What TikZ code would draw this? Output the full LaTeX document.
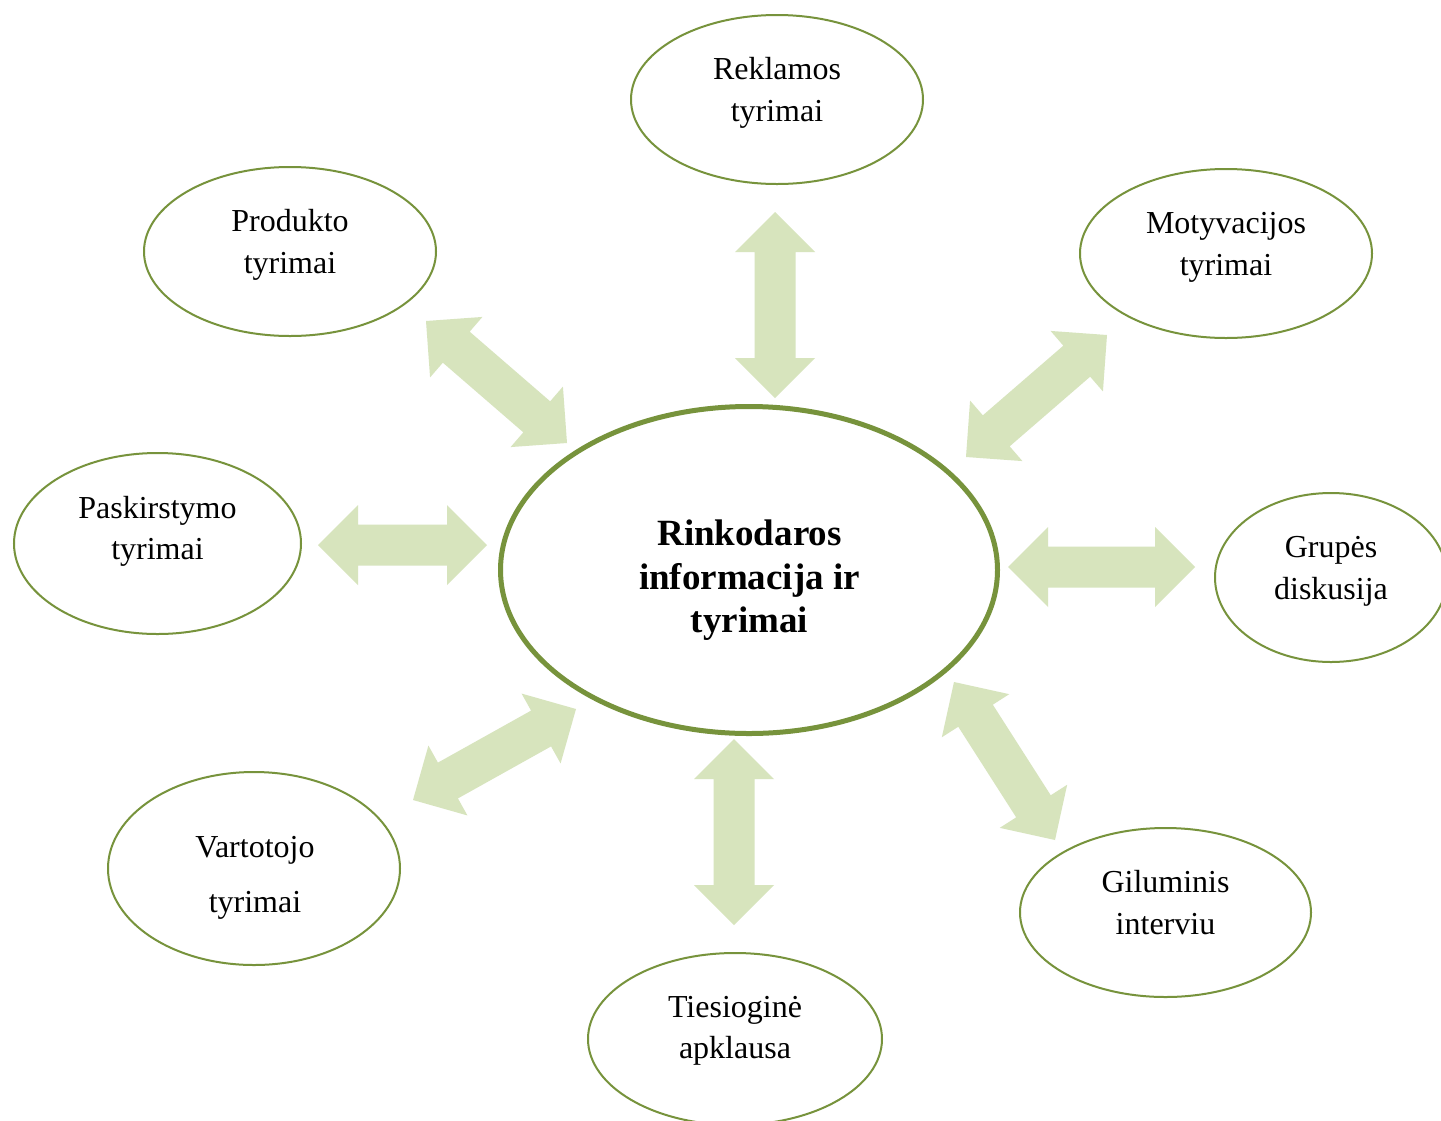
\documentclass[tikz,border=0pt]{standalone}
\usepackage{fontspec}
\setmainfont{Liberation Serif}
\usetikzlibrary{calc,shapes.geometric}
\definecolor{oliveline}{HTML}{77933C}
\definecolor{arrowgreen}{HTML}{D7E4BD}
\tikzset{
  outer/.style={ellipse, draw=oliveline, line width=2pt, fill=white, inner sep=0pt},
  hub/.style={ellipse, draw=oliveline, line width=5pt, fill=white, inner sep=0pt},
  lbl/.style={anchor=base, inner sep=0pt, font=\fontsize{32}{38}\selectfont},
  hublbl/.style={anchor=base, inner sep=0pt, font=\bfseries\fontsize{37}{44}\selectfont},
  blockarrow/.style={fill=arrowgreen},
}
\newcommand{\dblarrow}[2]{%
  \path ($(#1)!40pt!(#2)$) coordinate (ha) ($(#2)!40pt!(#1)$) coordinate (hb);
  \fill[blockarrow] (#1) -- ($(ha)!40pt!90:(#2)$) -- ($(ha)!20.5pt!90:(#2)$)
    -- ($(hb)!20.5pt!-90:(#1)$) -- ($(hb)!40pt!-90:(#1)$) -- (#2)
    -- ($(hb)!40pt!90:(#1)$) -- ($(hb)!20.5pt!90:(#1)$)
    -- ($(ha)!20.5pt!-90:(#2)$) -- ($(ha)!40pt!-90:(#2)$) -- cycle;}
\begin{document}
\begin{tikzpicture}[x=1pt,y=-1pt]
\clip (0,0) rectangle (1441,1120);
\fill[white] (0,0) rectangle (1441,1120);
% arrow tips
\coordinate (tA) at (775,212);  \coordinate (tB) at (775,398);
\coordinate (ulA) at (426,321); \coordinate (ulB) at (567,443);
\coordinate (urA) at (1107,335); \coordinate (urB) at (966,457);
\coordinate (lA) at (318,545);  \coordinate (lB) at (487,545);
\coordinate (rA) at (1008,567); \coordinate (rB) at (1195,567);
\coordinate (bA) at (734,739);  \coordinate (bB) at (734,925);
\coordinate (llA) at (413,800); \coordinate (llB) at (576,709);
\coordinate (lrA) at (954,682); \coordinate (lrB) at (1055,840);
\dblarrow{tA}{tB}
\dblarrow{ulA}{ulB}
\dblarrow{urA}{urB}
\dblarrow{lA}{lB}
\dblarrow{rA}{rB}
\dblarrow{bA}{bB}
\dblarrow{llA}{llB}
\dblarrow{lrA}{lrB}
% hub
\node[hub, minimum width=497pt, minimum height=327pt] (hub) at (749,570) {};
\node[hublbl] (hub1) at (749.5,545.5) {Rinkodaros};
\node[hublbl] (hub2) at (749.5,589.5) {informacija ir};
\node[hublbl] (hub3) at (749.5,632.5) {tyrimai};
% outer ellipses
\node[outer, minimum width=292pt, minimum height=169pt] (rek) at (777,99.5) {};
\node[lbl] (rek1) at (777,79) {Reklamos};
\node[lbl] (rek2) at (777,121) {tyrimai};
\node[outer, minimum width=292pt, minimum height=169pt] (pro) at (290,251.5) {};
\node[lbl] (pro1) at (290,231) {Produkto};
\node[lbl] (pro2) at (290,273) {tyrimai};
\node[outer, minimum width=292pt, minimum height=169pt] (mot) at (1226,253.5) {};
\node[lbl] (mot1) at (1226,233) {Motyvacijos};
\node[lbl] (mot2) at (1226,275) {tyrimai};
\node[outer, minimum width=287pt, minimum height=181pt] (pas) at (157.5,543.5) {};
\node[lbl] (pas1) at (157.5,518) {Paskirstymo};
\node[lbl] (pas2) at (157.5,559) {tyrimai};
\node[outer, minimum width=232pt, minimum height=169pt] (gru) at (1331,577.5) {};
\node[lbl] (gru1) at (1331,557) {Grupės};
\node[lbl] (gru2) at (1331,599) {diskusija};
\node[outer, minimum width=292pt, minimum height=193pt] (var) at (254,868.5) {};
\node[lbl] (var1) at (255,857) {Vartotojo};
\node[lbl] (var2) at (255,912) {tyrimai};
\node[outer, minimum width=291pt, minimum height=169pt] (gil) at (1165.5,912.5) {};
\node[lbl] (gil1) at (1165.5,892) {Giluminis};
\node[lbl] (gil2) at (1165.5,934) {interviu};
\node[outer, minimum width=294pt, minimum height=172pt] (tie) at (735,1039) {};
\node[lbl] (tie1) at (735,1017) {Tiesioginė};
\node[lbl] (tie2) at (735,1058) {apklausa};
\end{tikzpicture}
\end{document}
